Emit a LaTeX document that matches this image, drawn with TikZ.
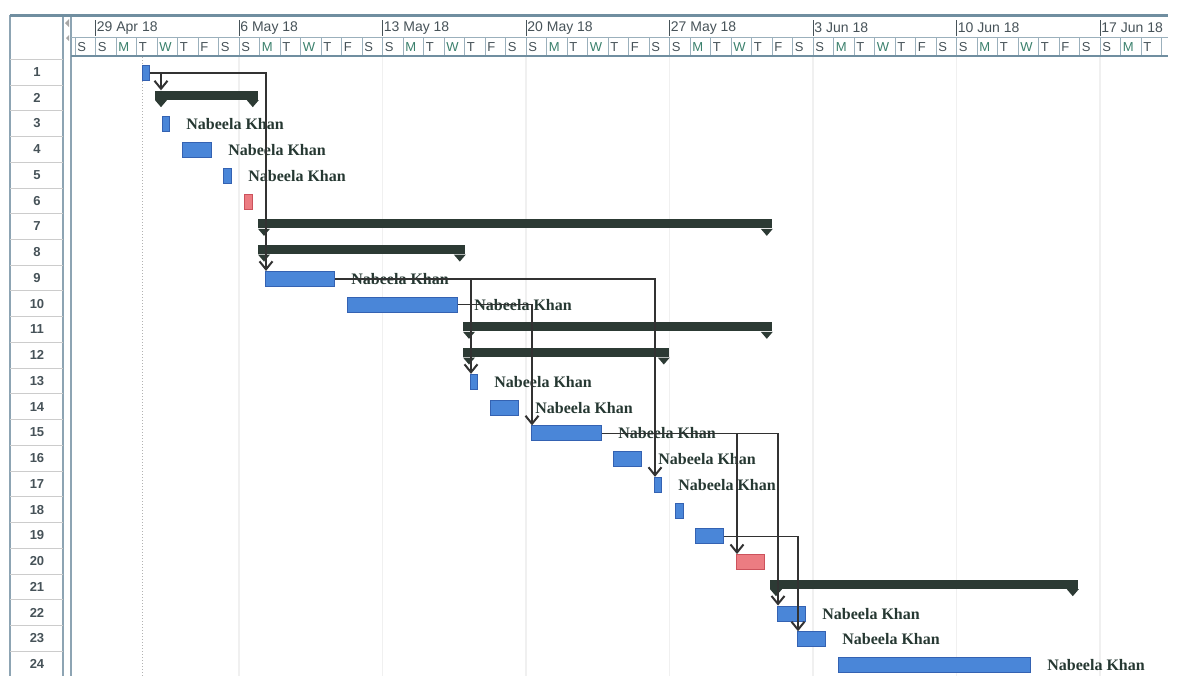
\documentclass[tikz,border=0pt]{standalone}
\usepackage{fontspec}
\setmainfont{Liberation Serif}
\setsansfont{Liberation Sans}
\usetikzlibrary{arrows.meta, positioning, calc}
\definecolor{taskblue}{RGB}{74,134,216}
\definecolor{taskedge}{RGB}{52,98,178}
\definecolor{critred}{RGB}{236,124,130}
\definecolor{critedge}{RGB}{204,82,92}
\definecolor{summarygreen}{RGB}{44,58,52}
\definecolor{labelgreen}{RGB}{38,56,50}
\definecolor{headerblue}{RGB}{112,142,160}
\definecolor{linkgray}{RGB}{50,50,50}
\definecolor{daygray}{RGB}{70,82,88}
\definecolor{dayteal}{RGB}{58,128,108}

\tikzset{
  taskbar/.style={draw=taskedge, fill=taskblue, line width=0.5pt, minimum height=7.5pt, inner sep=0pt, anchor=west},
  critbar/.style={taskbar, draw=critedge, fill=critred},
  summarybar/.style={fill=summarygreen, minimum height=4.5pt, inner sep=0pt, anchor=west},
  ownerlabel/.style={font=\bfseries\fontsize{8}{9}\selectfont, text=labelgreen, inner sep=0pt, anchor=west},
  rownum/.style={font=\sffamily\bfseries\fontsize{6.5}{7}\selectfont, text=daygray, inner sep=0pt},
  datelabel/.style={font=\sffamily\fontsize{7}{8}\selectfont, text=daygray, inner sep=0pt, anchor=west},
  dayletter/.style={font=\sffamily\fontsize{6.5}{7}\selectfont, inner sep=0pt, anchor=west},
  link/.style={draw=linkgray, line width=0.75pt, -{Straight Barb[length=4pt,width=6.5pt,line width=1pt]}},
}

\begin{document}
\begin{tikzpicture}[x=0.5pt, y=-0.5pt]
  \useasboundingbox (0,0) rectangle (1179,676);

  % Grid behind the bars
  \foreach \w in {1,...,7} {
    \draw[gray!12, line width=0.8pt] ({95.5+143.5*\w},57) -- ({95.5+143.5*\w},676);
  }
  \draw[gray!60, densely dotted, line width=0.5pt] (142,57) -- (142,676);

  % Left column with row numbers
  \draw[headerblue!80, line width=0.6pt] (10,15) -- (10,676);
  \draw[headerblue!80, line width=0.6pt] (63,15) -- (63,676);
  \draw[headerblue!80, line width=0.6pt] (71,15) -- (71,676);
  \foreach \r in {1,...,24} {
    \pgfmathsetmacro\yr{72+(\r-1)*25.74}
    \draw[gray!40, line width=0.3pt] (10,\yr-12.87) -- (63,\yr-12.87);
    \node[rownum] (n\r) at (37,\yr) {\r};
  }
  \fill[gray!70] (69,19) -- (65,23) -- (69,27) -- cycle;
  \fill[gray!70] (69,35) -- (66,38) -- (69,41) -- cycle;

  % Timescale
  \draw[headerblue, line width=1.5pt] (10,15) -- (1168,15);
  \draw[headerblue!70, line width=0.4pt] (71,37) -- (1168,37);
  \draw[headerblue, line width=1pt] (71,56) -- (1168,56);
  \foreach \w/\txt in {0/29 Apr 18, 1/6 May 18, 2/13 May 18, 3/20 May 18, 4/27 May 18, 5/3 Jun 18, 6/10 Jun 18, 7/17 Jun 18} {
    \draw[daygray, line width=0.5pt] ({95.5+143.5*\w},20) -- ({95.5+143.5*\w},36);
    \node[datelabel] (w\w) at ({96.5+143.5*\w},28) {\txt};
  }
  \draw[headerblue!70, line width=0.4pt] (75,38) -- (75,55);
  \node[dayletter, text=daygray] at (77,47) {S};
  \foreach \w in {0,...,7} {
    \foreach \l/\c [count=\i from 0] in {S/daygray, M/dayteal, T/daygray, W/dayteal, T/daygray, F/daygray, S/daygray} {
      \pgfmathtruncatemacro\dd{7*\w+\i}
      \pgfmathsetmacro\xd{95.5+20.5*\dd}
      \ifnum\dd<53
        \draw[headerblue!70, line width=0.4pt] (\xd,38) -- (\xd,55);
      \fi
      \ifnum\dd<52
        \node[dayletter, text=\c] at (\xd+2,47) {\l};
      \fi
    }
  }

  % Summary bars
  \foreach \r/\xa/\xb in {2/155/258, 7/258/772, 8/258/465, 11/463/772, 12/463/669, 21/770/1078} {
    \pgfmathsetmacro\yr{72+(\r-1)*25.74}
    \node[summarybar, minimum width={(\xb-\xa)*0.5pt}] (s\r) at (\xa,\yr-2.5) {};
    \fill[summarygreen] (s\r.south west) -- ++(12,0) -- ++(-6,7) -- cycle;
    \fill[summarygreen] (s\r.south east) -- ++(-12,0) -- ++(6,7) -- cycle;
  }

  % Task bars
  \foreach \r/\xa/\xb in {1/142/149, 3/162/169, 4/182/211, 5/223/231, 9/265/334, 10/347/457, 13/470/477, 14/490/518, 15/531/601, 16/613/641, 17/654/661, 18/675/683, 19/695/723, 22/777/805, 23/797/825, 24/838/1030} {
    \pgfmathsetmacro\yr{72+(\r-1)*25.74}
    \node[taskbar, minimum width={(\xb-\xa)*0.5pt}] (t\r) at (\xa,\yr+1) {};
  }
  \foreach \r/\xa/\xb in {6/244/252, 20/736/764} {
    \pgfmathsetmacro\yr{72+(\r-1)*25.74}
    \node[critbar, minimum width={(\xb-\xa)*0.5pt}] (t\r) at (\xa,\yr+1) {};
  }

  % Resource names
  \foreach \r in {3,4,5,9,10,13,14,15,16,17,22,23,24} {
    \node[ownerlabel] (l\r) at ($(t\r.east)+(16,0)$) {Nabeela Khan};
  }

  % Links
  \draw[link] (t1.east) -| ($(s2.north west)+(6,0)$);
  \draw[link] (t1.east) -| ($(t9.north west)+(1,0)$);
  \draw[link] (t9.east) -| ($(t13.north west)+(1,0)$);
  \draw[link] (t9.east) -| ($(t17.north west)+(1,0)$);
  \draw[link] (t10.east) -| ($(t15.north west)+(1,0)$);
  \draw[link] (t15.east) -| ($(t20.north west)+(1,0)$);
  \draw[link] (t15.east) -| ($(t22.north west)+(1,0)$);
  \draw[link] (t19.east) -| ($(t23.north west)+(1,0)$);
\end{tikzpicture}
\end{document}
